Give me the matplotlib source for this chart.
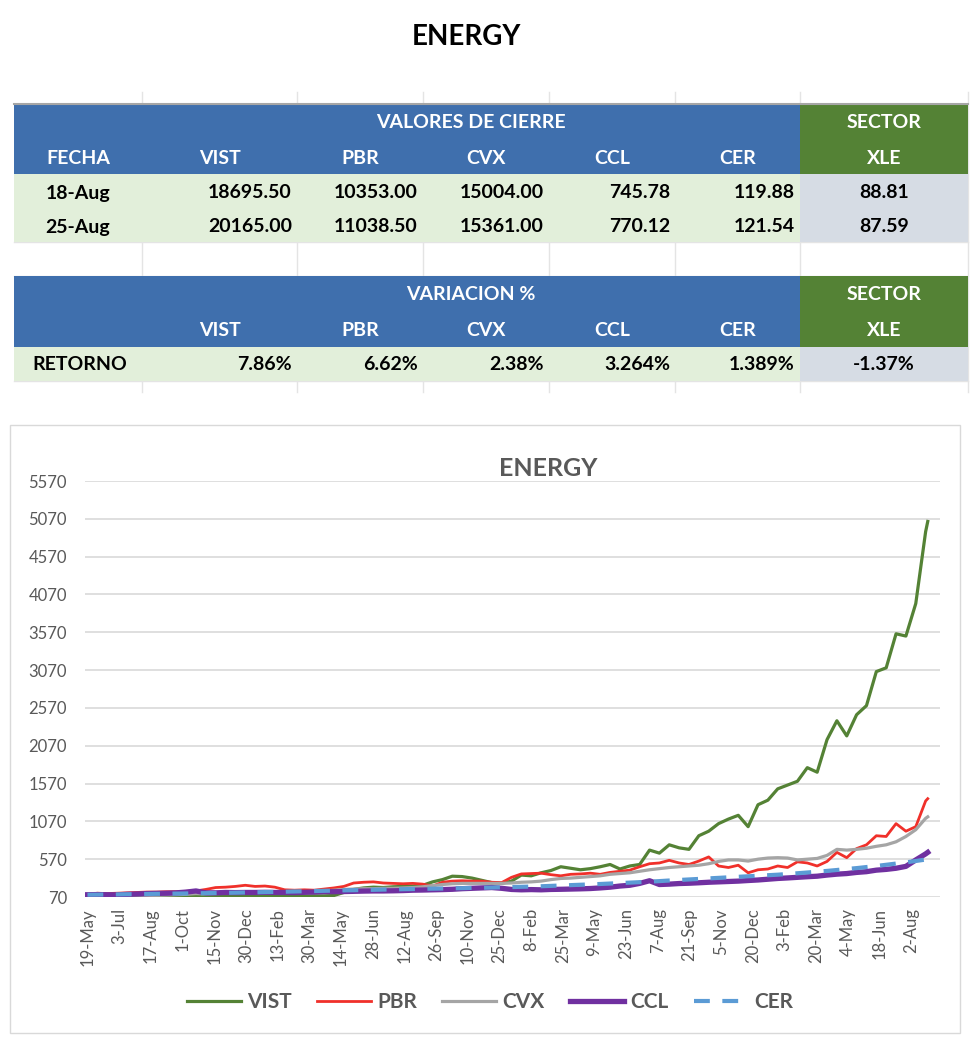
import pandas as pd
import numpy as np
import matplotlib
matplotlib.use('Agg')
import matplotlib.pyplot as plt
import matplotlib.dates as mdates
from matplotlib.patches import Rectangle

plt.rcParams['font.family'] = ['Lato', 'DejaVu Sans']

# ---- table data ----
fechas = ['18-Aug', '25-Aug']
tickers = ['VIST', 'PBR', 'CVX', 'CCL', 'CER']
cierre_18 = ['18695.50', '10353.00', '15004.00', '745.78', '119.88']
cierre_25 = ['20165.00', '11038.50', '15361.00', '770.12', '121.54']
xle_cierre = ['88.81', '87.59']
retorno = ['7.86%', '6.62%', '2.38%', '3.264%', '1.389%']
xle_retorno = '-1.37%'

# ---- chart data (one reading every 14 days from 19-May-2020, plus 25-Aug-2023) ----
fechas_serie = list(pd.date_range('2020-05-19', periods=86, freq='14D')) + [pd.Timestamp('2023-08-25')]

vist = [100, 95, 90, 90, 88, 88, 85, 85, 82, 80,
        80, 82, 78, 82, 85, 85, 88, 85, 88, 90,
        88, 85, 82, 85, 85, 90, 130, 170, 190, 200,
        195, 205, 210, 215, 225, 270, 300, 345, 340, 320,
        290, 260, 250, 280, 360, 350, 390, 420, 470, 450,
        430, 445, 470, 500, 440, 480, 500, 690, 650, 760,
        720, 700, 880, 940, 1040, 1100, 1150, 1000, 1290, 1350,
        1500, 1550, 1600, 1780, 1720, 2150, 2400, 2200, 2480, 2600,
        3050, 3100, 3550, 3520, 3950, 4900, 5035]

pbr = [105, 120, 115, 120, 125, 130, 135, 135, 140, 140,
       145, 150, 170, 195, 200, 210, 225, 210, 215, 200,
       165, 160, 165, 160, 175, 190, 210, 255, 265, 270,
       255, 250, 245, 250, 240, 215, 265, 280, 285, 280,
       280, 265, 260, 330, 375, 380, 385, 365, 350, 370,
       375, 385, 370, 395, 410, 425, 470, 510, 520, 555,
       520, 500, 545, 600, 480, 460, 490, 390, 430, 440,
       480, 460, 535, 520, 480, 540, 660, 590, 710, 760,
       880, 870, 1040, 940, 1000, 1340, 1370]

cvx = [100, 98, 95, 92, 95, 95, 90, 92, 95, 100,
       105, 115, 110, 115, 120, 120, 125, 125, 130, 130,
       140, 145, 140, 145, 150, 160, 170, 175, 180, 180,
       185, 185, 190, 195, 205, 220, 235, 245, 250, 250,
       250, 250, 250, 255, 265, 270, 280, 300, 315, 320,
       330, 340, 350, 370, 380, 390, 410, 430, 445, 460,
       470, 480, 490, 510, 540, 560, 560, 545, 570, 585,
       590, 585, 560, 570, 580, 620, 700, 690, 700, 715,
       740, 760, 800, 870, 960, 1110, 1130]

ccl = [100, 102, 100, 98, 105, 110, 115, 118, 120, 125,
       135, 150, 125, 125, 130, 128, 130, 130, 132, 130,
       130, 128, 132, 135, 140, 140, 142, 145, 148, 150,
       150, 152, 155, 160, 162, 165, 168, 172, 180, 185,
       190, 195, 185, 170, 165, 168, 165, 170, 172, 175,
       178, 182, 190, 200, 215, 225, 250, 285, 235, 240,
       248, 252, 258, 265, 270, 275, 280, 288, 295, 305,
       315, 322, 330, 338, 345, 360, 372, 380, 395, 405,
       425, 435, 450, 475, 560, 640, 660]

cer = [100, 101, 103, 104, 106, 108, 110, 112, 113, 115,
       117, 119, 121, 123, 125, 127, 130, 132, 135, 137,
       140, 143, 146, 149, 152, 155, 158, 160, 163, 165,
       168, 170, 173, 175, 178, 180, 182, 185, 187, 190,
       192, 195, 198, 201, 205, 208, 212, 217, 222, 227,
       232, 237, 242, 248, 254, 260, 266, 273, 280, 288,
       295, 302, 309, 316, 323, 330, 337, 344, 351, 358,
       365, 374, 384, 394, 404, 415, 427, 440, 452, 466,
       480, 496, 512, 528, 546, 565, 572]

x_labels = ['19-May', '3-Jul', '17-Aug', '1-Oct', '15-Nov', '30-Dec', '13-Feb', '30-Mar',
            '14-May', '28-Jun', '12-Aug', '26-Sep', '10-Nov', '25-Dec', '8-Feb', '25-Mar',
            '9-May', '23-Jun', '7-Aug', '21-Sep', '5-Nov', '20-Dec', '3-Feb', '20-Mar',
            '4-May', '18-Jun', '2-Aug']

W, H = 980, 1053
fig = plt.figure(figsize=(W / 100, H / 100), dpi=100)

# background axes in pixel coordinates for the table and frames
bg = fig.add_axes([0, 0, 1, 1])
bg.set_xlim(0, W)
bg.set_ylim(H, 0)
bg.axis('off')

blue = '#3F6FAD'
sector_green = '#548235'
light_green = '#E2EFDA'
light_gray = '#D6DCE4'
cols = [14, 142, 297, 423, 549, 675, 800, 968]

# faint spreadsheet gridlines
for c in cols[1:]:
    bg.plot([c, c], [92, 392], color='#e4e4e4', lw=1, zorder=0)
for yy in [242, 276, 381]:
    bg.plot([cols[0], cols[-1]], [yy, yy], color='#e4e4e4', lw=1, zorder=0)
bg.plot([cols[0], cols[-1]], [103.5, 103.5], color='#a6a6a6', lw=1.5, zorder=2)

def cell(x0, x1, y0, y1, color):
    bg.add_patch(Rectangle((x0, y0), x1 - x0, y1 - y0, facecolor=color, edgecolor='none', zorder=1))

for y0, y1 in [(104, 174), (276, 347)]:
    cell(cols[0], cols[6], y0, y1, blue)
    cell(cols[6], cols[7], y0, y1, sector_green)
for y0, y1 in [(174, 242), (347, 381)]:
    cell(cols[0], cols[6], y0, y1, light_green)
    cell(cols[6], cols[7], y0, y1, light_gray)

hdr = dict(color='white', fontsize=14, fontweight='bold', ha='center', va='center', zorder=3)
val = dict(color='black', fontsize=14, fontweight='bold', va='center', zorder=3)
xle_x = (cols[6] + cols[7]) / 2
mid_x = (cols[1] + cols[6]) / 2

bg.text(mid_x, 123, 'VALORES DE CIERRE', **hdr)
bg.text(xle_x, 123, 'SECTOR', **hdr)
bg.text((cols[0] + cols[1]) / 2, 159, 'FECHA', **hdr)
for k, t in enumerate(tickers):
    bg.text((cols[k + 1] + cols[k + 2]) / 2, 159, t, **hdr)
    bg.text((cols[k + 1] + cols[k + 2]) / 2, 330, t, **hdr)
bg.text(xle_x, 159, 'XLE', **hdr)

for r, (f, vals) in enumerate(zip(fechas, [cierre_18, cierre_25])):
    yy = 193 + 34 * r
    bg.text((cols[0] + cols[1]) / 2, yy, f, ha='center', **val)
    for k, v in enumerate(vals):
        bg.text(cols[k + 2] - 5, yy, v, ha='right', **val)
    bg.text(xle_x, yy, xle_cierre[r], ha='center', **val)

bg.text(mid_x, 295, 'VARIACION %', **hdr)
bg.text(xle_x, 295, 'SECTOR', **hdr)
bg.text(xle_x, 330, 'XLE', **hdr)
bg.text(32, 364, 'RETORNO', ha='left', **val)
for k, v in enumerate(retorno):
    bg.text(cols[k + 2] - 5, 364, v, ha='right', **val)
bg.text(xle_x, 364, xle_retorno, ha='center', **val)

# top title
bg.text(466, 37, 'ENERGY', fontsize=20, fontweight='bold', ha='center', va='center', color='black')

# chart frame and title
bg.add_patch(Rectangle((10, 425), 950, 608, facecolor='none', edgecolor='#d9d9d9', lw=1))
bg.text(548, 468, 'ENERGY', fontsize=18, fontweight='bold', ha='center', va='center', color='#595959')

# ---- line chart ----
ax = fig.add_axes([85 / W, 1 - 897 / H, 855 / W, 416 / H])
ax.patch.set_alpha(0)
d0 = mdates.date2num(pd.Timestamp('2020-05-19'))
ax.set_xlim(d0 - 3.5, d0 + 1210.4)
ax.set_ylim(70, 5570)

ax.plot(fechas_serie, vist, color='#548235', lw=2.3, label='VIST')
ax.plot(fechas_serie, pbr, color='#F0302A', lw=2.0, label='PBR')
ax.plot(fechas_serie, cvx, color='#A5A5A5', lw=2.3, label='CVX')
ax.plot(fechas_serie, ccl, color='#7030A0', lw=3.8, label='CCL')
ax.plot(fechas_serie, cer, color='#5B9BD5', lw=3.0, dashes=(3.8, 3.0), label='CER')

ax.set_yticks(np.arange(70, 5571, 500))
ax.set_yticklabels([str(v) for v in np.arange(70, 5571, 500)])
tick_dates = pd.date_range('2020-05-19', periods=len(x_labels), freq='45D')
ax.set_xticks(mdates.date2num(tick_dates))
ax.set_xticklabels(x_labels, rotation=90)
ax.tick_params(axis='both', length=0, colors='#595959', labelsize=12)
ax.tick_params(axis='y', pad=13)
ax.tick_params(axis='x', pad=8)
ax.yaxis.grid(True, color='#d9d9d9', lw=1.2)
ax.set_axisbelow(True)
for s in ax.spines.values():
    s.set_visible(False)

leg = fig.legend(loc='center', bbox_to_anchor=(490 / W, 1 - 1002 / H), ncol=5, frameon=False,
                 prop={'weight': 'bold', 'size': 15}, labelcolor='#595959',
                 handlelength=2.6, handletextpad=0.3, columnspacing=1.2)

fig.savefig('out.png', dpi=100)
